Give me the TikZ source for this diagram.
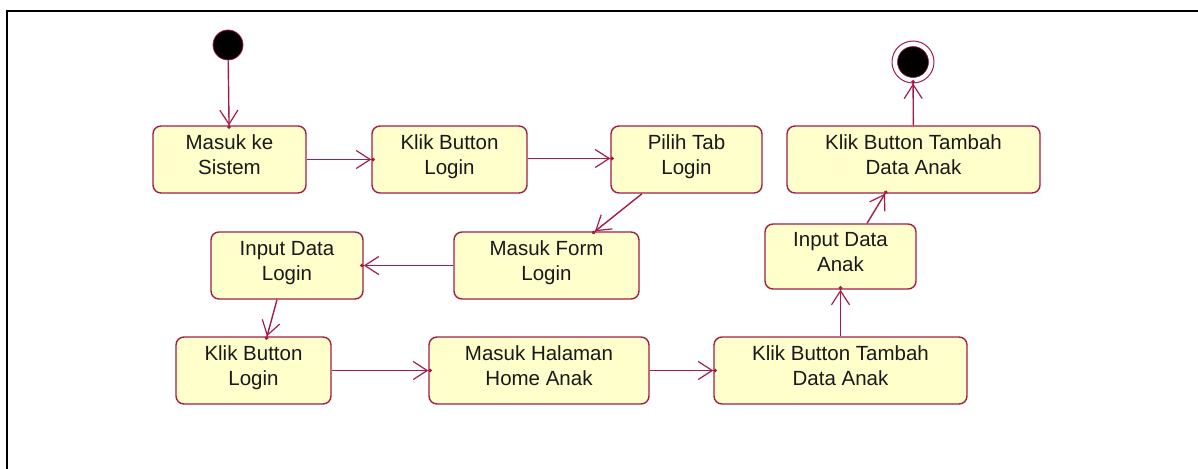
\documentclass[tikz,border=0pt]{standalone}
\usepackage{fontspec}
\setmainfont{Liberation Sans}
\usetikzlibrary{arrows.meta}
\definecolor{umlline}{RGB}{163,29,72}
\definecolor{umlfill}{RGB}{255,255,204}
\newcommand{\twolines}[2]{\rule{0pt}{15pt}#1\\#2\rule[-11pt]{0pt}{11pt}}
\tikzset{
  act/.style={draw=umlline, fill=umlfill, line width=1.4pt, rounded corners=8pt,
    minimum height=67pt, inner sep=0pt, align=center, text=black!90,
    font=\fontsize{20.5}{25}\selectfont},
  flow/.style={draw=umlline, line width=1.4pt,
    -{Straight Barb[length=14pt,width=18pt,line width=1.2pt] Circle[length=3.5pt,sep=-3.5pt]}},
}
\begin{document}
\begin{tikzpicture}[x=1pt,y=-1pt]
\useasboundingbox (0,0) rectangle (1198,468);
\draw[line width=2.5pt] (7,470) -- (7,11) -- (1200,11);
% start and end
\node (start) [circle, fill=black, draw=umlline, line width=0.8pt, minimum size=30pt, inner sep=0pt] at (228,45) {};
\node (end) [circle, draw=umlline, fill=white, line width=1pt, minimum size=42pt, inner sep=0pt] at (913,62) {};
\node (endin) [circle, fill=black, draw=umlline, line width=0.6pt, minimum size=31pt, inner sep=0pt] at (913,62) {};
% activities
\node (ms)  [act, minimum width=153pt] at (229.5,159.5) {\twolines{Masuk ke}{Sistem}};
\node (kb1) [act, minimum width=155pt] at (449.5,159.5) {\twolines{Klik Button}{Login}};
\node (pt)  [act, minimum width=151pt] at (686.5,159.5) {\twolines{Pilih Tab}{Login}};
\node (kt1) [act, minimum width=253pt] at (913.5,159.5) {\twolines{Klik Button Tambah}{Data Anak}};
\node (mf)  [act, minimum width=185pt] at (546.5,265.5) {\twolines{Masuk Form}{Login}};
\node (id)  [act, minimum width=152pt] at (287,265.5) {\twolines{Input Data}{Login}};
\node (kb2) [act, minimum width=155pt] at (253.5,370.5) {\twolines{Klik Button}{Login}};
\node (mh)  [act, minimum width=220pt] at (539,370.5) {\twolines{Masuk Halaman}{Home Anak}};
\node (kt2) [act, minimum width=253pt] at (840.5,370.5) {\twolines{Klik Button Tambah}{Data Anak}};
\node (ia)  [act, minimum width=151pt, minimum height=65pt] at (840.5,256.5) {\twolines{Input Data}{Anak}};
% flows
\draw[flow] (start) -- (ms);
\draw[flow] (ms) -- (kb1);
\draw[flow] ([yshift=1pt]kb1.east) -- ([yshift=1pt]pt.west);
\draw[flow] ([xshift=-44.5pt]pt.south) -- ([xshift=48.5pt]mf.north);
\draw[flow] (mf) -- (id);
\draw[flow] ([xshift=-10pt]id.south) -- ([xshift=13.5pt]kb2.north);
\draw[flow] (kb2) -- (mh);
\draw[flow] (mh) -- (kt2);
\draw[flow] (kt2) -- (ia);
\draw[flow] ([xshift=26.5pt]ia.north) -- ([xshift=-28.5pt]kt1.south);
\draw[flow] (kt1) -- (end);
\end{tikzpicture}
\end{document}
